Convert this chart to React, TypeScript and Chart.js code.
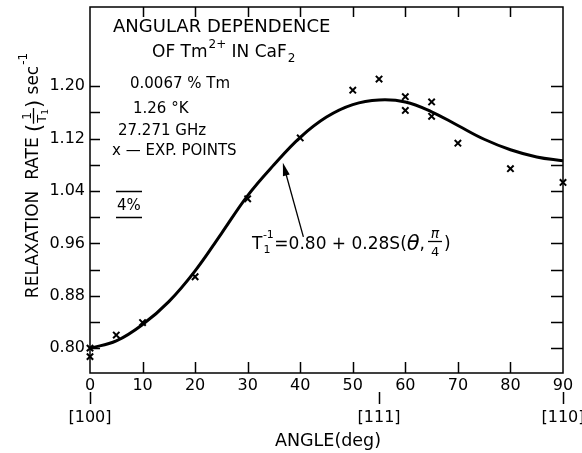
import React, { useEffect, useRef } from "react";
import { Chart, registerables } from "chart.js";

Chart.register(...registerables);

// ---- data ----
const curveAngles = [0, 5, 10, 15, 20, 25, 30, 35, 40, 45, 50, 55, 60, 65, 70, 75, 80, 85, 90];
const curveRates = [0.8, 0.811, 0.836, 0.871, 0.918, 0.975, 1.033, 1.08, 1.122, 1.153, 1.172, 1.179, 1.176, 1.161, 1.14, 1.119, 1.103, 1.092, 1.086];

const expAngles = [0, 0, 5, 10, 20, 30, 40, 50, 55, 60, 60, 65, 65, 70, 80, 90];
const expRates = [0.8, 0.787, 0.82, 0.839, 0.909, 1.028, 1.121, 1.194, 1.211, 1.184, 1.163, 1.176, 1.154, 1.113, 1.074, 1.053];

const yTickLabels = [0.8, 0.88, 0.96, 1.04, 1.12, 1.2];
const yMinorTicks = [0.8, 0.84, 0.88, 0.92, 0.96, 1.0, 1.04, 1.08, 1.12, 1.16, 1.2];
const xInnerTicks = [10, 20, 30, 40, 50, 60, 70, 80];
const directionAngles = [0, 55, 90];
const directionLabels = ["[100]", "[111]", "[110]"];

const F = "'DejaVu Sans', sans-serif";

function put(ctx: CanvasRenderingContext2D, s: string, x: number, y: number, size: number, align: CanvasTextAlign = "left", style = "") {
  ctx.font = `${style} ${size}px ${F}`.trim();
  ctx.textAlign = align;
  ctx.fillText(s, x, y);
  return ctx.measureText(s).width;
}
function w(ctx: CanvasRenderingContext2D, s: string, size: number, style = "") {
  ctx.font = `${style} ${size}px ${F}`.trim();
  return ctx.measureText(s).width;
}

const decorPlugin = {
  id: "decor",
  afterDraw(chart: any) {
    const { ctx, chartArea } = chart;
    const { left, right, top, bottom } = chartArea;
    const xs = chart.scales.x;
    const ys = chart.scales.y;
    ctx.save();
    ctx.strokeStyle = "#000";
    ctx.fillStyle = "#000";
    ctx.lineWidth = 1.5;
    // frame
    ctx.strokeRect(left, top, right - left, bottom - top);
    // inward ticks
    ctx.beginPath();
    for (const v of yMinorTicks) {
      const py = Math.round(ys.getPixelForValue(v)) + 0.5;
      ctx.moveTo(left, py);
      ctx.lineTo(left + 10, py);
      ctx.moveTo(right, py);
      ctx.lineTo(right - 12, py);
    }
    for (const v of xInnerTicks) {
      const px = Math.round(xs.getPixelForValue(v)) + 0.5;
      ctx.moveTo(px, bottom);
      ctx.lineTo(px, bottom - 11);
      ctx.moveTo(px, top);
      ctx.lineTo(px, top + 10);
    }
    // crystal direction markers
    directionAngles.forEach((a) => {
      const px = Math.round(xs.getPixelForValue(a)) + 0.5;
      ctx.moveTo(px, bottom + 19);
      ctx.lineTo(px, bottom + 31);
    });
    ctx.stroke();
    ctx.textBaseline = "alphabetic";
    directionAngles.forEach((a, i) => {
      put(ctx, directionLabels[i], xs.getPixelForValue(a), bottom + 49, 16, "center");
    });

    // x title
    put(ctx, "ANGLE(deg)", 328, 446, 17.5, "center");

    // y title (rotated)
    ctx.save();
    ctx.translate(31, 176);
    ctx.rotate(-Math.PI / 2);
    const s1 = "RELAXATION  RATE ";
    const w1 = w(ctx, s1, 17);
    const wp = w(ctx, "(", 21);
    const wT = w(ctx, "T", 13) + w(ctx, "1", 9);
    const wf = wT + 2;
    const w2 = w(ctx, ")", 21) + w(ctx, " sec", 17);
    const w3 = w(ctx, "-1", 12);
    const tot = w1 + wp + wf + w2 + w3;
    let cx = -tot / 2;
    put(ctx, s1, cx, 6.5, 17);
    cx += w1;
    put(ctx, "(", cx, 10, 21);
    cx += wp;
    // fraction 1 / T1
    put(ctx, "1", cx + wf / 2, 0, 12, "center");
    ctx.beginPath();
    ctx.lineWidth = 1.3;
    ctx.moveTo(cx, 2.5);
    ctx.lineTo(cx + wf, 2.5);
    ctx.stroke();
    const tx = cx + 1;
    const tW = put(ctx, "T", tx, 15, 13);
    put(ctx, "1", tx + tW, 17, 9);
    cx += wf;
    put(ctx, ")", cx, 10, 21);
    cx += w(ctx, ")", 21);
    put(ctx, " sec", cx, 6.5, 17);
    cx += w(ctx, " sec", 17);
    put(ctx, "-1", cx + 1, -4, 12);
    ctx.restore();

    // annotation block
    put(ctx, "ANGULAR DEPENDENCE", 113, 32, 18);
    let px = 152;
    px += put(ctx, "OF Tm", px, 57, 17);
    put(ctx, "2+", px + 1, 48, 12);
    px += w(ctx, "2+", 12) + 1;
    px += put(ctx, " IN CaF", px, 57, 17);
    put(ctx, "2", px + 1, 62, 12);

    put(ctx, "0.0067 % Tm", 130, 88, 15);
    put(ctx, "1.26 °K", 133, 113, 15);
    put(ctx, "27.271 GHz", 118, 135, 15);
    put(ctx, "x — EXP. POINTS", 112, 155, 15);

    // 4% scale bar
    const yA = Math.round(ys.getPixelForValue(1.04)) + 0.5;
    const yB = Math.round(ys.getPixelForValue(1.0)) + 0.5;
    ctx.beginPath();
    ctx.lineWidth = 1.5;
    ctx.moveTo(116, yA);
    ctx.lineTo(142, yA);
    ctx.moveTo(116, yB);
    ctx.lineTo(142, yB);
    ctx.stroke();
    put(ctx, "4%", 117, 210, 15);

    // formula
    let fx = 252;
    const fb = 249;
    const tw = put(ctx, "T", fx, fb, 17);
    put(ctx, "-1", fx + tw + 0.5, fb - 11, 11);
    put(ctx, "1", fx + tw + 1, fb + 4, 11);
    fx += tw + w(ctx, "-1", 11) + 1;
    fx += put(ctx, "=0.80 + 0.28S(", fx, fb, 17);
    fx += put(ctx, "θ", fx, fb + 1, 21, "left", "italic");
    fx += put(ctx, ",", fx, fb, 17) + 3;
    const fw = 14;
    put(ctx, "π", fx + fw / 2, fb - 11, 14, "center", "italic");
    ctx.beginPath();
    ctx.lineWidth = 1.3;
    ctx.moveTo(fx, fb - 7.5);
    ctx.lineTo(fx + fw, fb - 7.5);
    ctx.stroke();
    put(ctx, "4", fx + fw / 2, fb + 7, 13, "center");
    fx += fw + 2;
    put(ctx, ")", fx, fb, 17);

    // arrow from formula to curve
    const hx = xs.getPixelForValue(36.7);
    const hy = ys.getPixelForValue(1.083);
    const txp = xs.getPixelForValue(40.6);
    const typ = ys.getPixelForValue(0.97);
    const ang = Math.atan2(hy - typ, hx - txp);
    ctx.beginPath();
    ctx.lineWidth = 1.3;
    ctx.moveTo(txp, typ);
    ctx.lineTo(hx - Math.cos(ang) * 8, hy - Math.sin(ang) * 8);
    ctx.stroke();
    ctx.beginPath();
    ctx.moveTo(hx, hy);
    ctx.lineTo(hx - Math.cos(ang) * 13 + Math.sin(ang) * 3.5, hy - Math.sin(ang) * 13 - Math.cos(ang) * 3.5);
    ctx.lineTo(hx - Math.cos(ang) * 13 - Math.sin(ang) * 3.5, hy - Math.sin(ang) * 13 + Math.cos(ang) * 3.5);
    ctx.closePath();
    ctx.fill();

    ctx.restore();
  },
};

export default function App() {
  const ref = useRef<HTMLCanvasElement | null>(null);
  useEffect(() => {
    document.body.style.margin = "0";
    const canvas = ref.current;
    if (!canvas) return;
    const chart = new Chart(canvas, {
      type: "line",
      data: {
        datasets: [
          {
            label: "fit",
            data: curveAngles.map((a, i) => ({ x: a, y: curveRates[i] })),
            borderColor: "#000",
            borderWidth: 3,
            pointRadius: 0,
            tension: 0.4,
            fill: false,
            order: 2,
          },
          {
            label: "exp",
            type: "scatter",
            data: expAngles.map((a, i) => ({ x: a, y: expRates[i] })),
            showLine: false,
            pointStyle: "crossRot",
            pointRadius: 4.5,
            borderColor: "#000",
            backgroundColor: "#000",
            pointBorderWidth: 2,
            clip: false,
            order: 1,
          } as any,
        ],
      },
      options: {
        animation: false,
        responsive: false,
        events: [],
        layout: { padding: { top: 7, right: 19, left: 0, bottom: 0 } },
        plugins: { legend: { display: false }, tooltip: { enabled: false }, title: { display: false } },
        scales: {
          x: {
            type: "linear",
            min: 0,
            max: 90,
            grid: { display: false, drawTicks: false },
            border: { display: false },
            ticks: { stepSize: 10, color: "#000", font: { family: F, size: 16 }, padding: 3, maxRotation: 0 },
            afterFit: (s: any) => {
              s.height = 80;
              s.paddingLeft = 0;
              s.paddingRight = 0;
            },
          },
          y: {
            type: "linear",
            min: 0.762,
            max: 1.321,
            grid: { display: false, drawTicks: false },
            border: { display: false },
            afterBuildTicks: (s: any) => {
              s.ticks = yTickLabels.map((v) => ({ value: v }));
            },
            ticks: {
              color: "#000",
              font: { family: F, size: 16 },
              padding: 5,
              callback: (v: any) => Number(v).toFixed(2),
            },
            afterFit: (s: any) => {
              s.width = 90;
              s.paddingTop = 0;
              s.paddingBottom = 0;
            },
          },
        },
      } as any,
      plugins: [decorPlugin],
    });
    return () => chart.destroy();
  }, []);
  return (
    <div style={{ position: "absolute", left: 0, top: 0, width: 582, height: 453, background: "#fff" }}>
      <canvas ref={ref} width={582} height={453} />
    </div>
  );
}
